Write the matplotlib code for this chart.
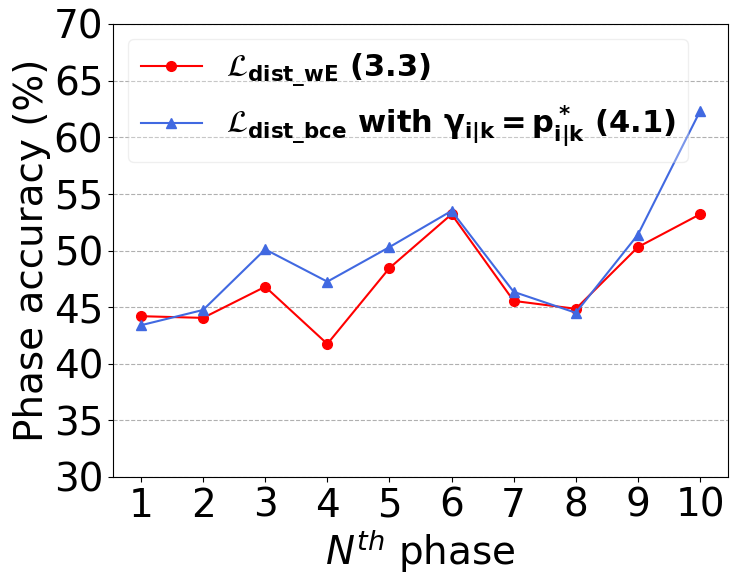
import matplotlib
matplotlib.use("Agg")
import matplotlib.pyplot as plt

phases = [1, 2, 3, 4, 5, 6, 7, 8, 9, 10]
acc_dist_we = [44.2, 44.05, 46.8, 41.75, 48.45, 53.2, 45.55, 44.85, 50.3, 53.2]
acc_dist_bce = [43.4, 44.75, 50.1, 47.25, 50.3, 53.5, 46.35, 44.5, 51.4, 62.3]
yticks = [30, 35, 40, 45, 50, 55, 60, 65, 70]

plt.rcParams['mathtext.fontset'] = 'dejavusans'

fig = plt.figure(figsize=(7.46, 5.88), dpi=100)
ax = fig.add_axes([113 / 746, 1 - 477 / 588, 615 / 746, 453 / 588])

ax.plot(phases, acc_dist_we, color='red', marker='o', markersize=7,
        linewidth=1.5, label=r'$\mathcal{L}_{\mathbf{dist\_wE}}$ (3.3)')
ax.plot(phases, acc_dist_bce, color='royalblue', marker='^', markersize=7,
        linewidth=1.5,
        label=r'$\mathcal{L}_{\mathbf{dist\_bce}}$ with $\mathbf{\gamma_{i|k}=p^*_{i|k}}$ (4.1)')

ax.set_ylim(30, 70)
ax.set_xlim(0.55, 10.45)
ax.set_yticks(yticks)
ax.set_xticks(phases)
ax.tick_params(labelsize=28)
ax.yaxis.grid(True, linestyle='--', color='#b0b0b0')
ax.set_axisbelow(True)
ax.set_ylabel('Phase accuracy (%)', fontsize=28, labelpad=2)
ax.set_xlabel(r'$N^{th}$ phase', fontsize=28, labelpad=2)

leg = ax.legend(loc='upper left', prop={'size': 22, 'weight': 'bold'},
                framealpha=0.3)

fig.savefig('out.png', dpi=100)
